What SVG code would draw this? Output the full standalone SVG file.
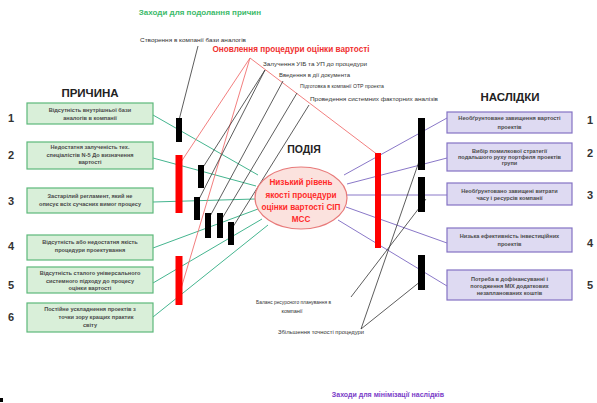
<svg xmlns="http://www.w3.org/2000/svg" width="597" height="403" viewBox="0 0 597 403">
<style>
text{font-family:"Liberation Sans",Arial,sans-serif}
.bx{fill:#d9efd9;stroke:#5cb87a;stroke-width:1.2}
.rb{fill:#dedaf2;stroke:#8472c4;stroke-width:1.2}
.bt{font-size:5.6px;font-weight:bold;fill:#4a4a4a;text-anchor:middle}
.num{font-size:11px;font-weight:bold;fill:#333;text-anchor:middle}
.hd{font-size:11.5px;font-weight:bold;fill:#222;text-anchor:middle}
.lab{font-size:5.5px;fill:#333}
.g{stroke:#45b58f;stroke-width:1;fill:none}
.p{stroke:#8a78c8;stroke-width:1;fill:none}
.r{stroke:#f07070;stroke-width:0.9;fill:none}
.k{stroke:#333;stroke-width:0.8;fill:none}
.kb{fill:#000}
.rd{fill:#f00}
</style>
<rect width="597" height="403" fill="#fff"/>

<text x="200" y="15" style="font-size:8px;font-weight:bold;fill:#3cba6a;text-anchor:middle">Заходи для подолання причин</text>
<text x="291" y="52" textLength="157" lengthAdjust="spacingAndGlyphs" style="font-size:8.6px;font-weight:bold;fill:#f03030;text-anchor:middle">Оновлення процедури оцінки вартості</text>
<text x="388" y="397" style="font-size:7px;font-weight:bold;fill:#7a3cc8;text-anchor:middle">Заходи для мінімізації наслідків</text>

<g id="labels">
<text class="lab" x="140" y="42" textLength="106" lengthAdjust="spacingAndGlyphs">Створення в компанії бази аналогів</text>
<text class="lab" x="263" y="66" textLength="104" lengthAdjust="spacingAndGlyphs">Залучення УІБ та УП до процедури</text>
<text class="lab" x="279" y="77" textLength="71" lengthAdjust="spacingAndGlyphs">Введення в дії документа</text>
<text class="lab" x="300" y="88" textLength="84" lengthAdjust="spacingAndGlyphs">Підготовка в компанії OTP проекта</text>
<text class="lab" x="310" y="101" textLength="128" lengthAdjust="spacingAndGlyphs">Проведення системних факторних аналізів</text>
<text class="lab" x="256" y="304" textLength="75" lengthAdjust="spacingAndGlyphs">Баланс ресурсного планування в</text>
<text class="lab" x="292" y="313" text-anchor="middle">компанії</text>
<text class="lab" x="278" y="334" textLength="86" lengthAdjust="spacingAndGlyphs">Збільшення точності процедури</text>
</g>

<g id="connectors">
<line class="g" x1="153" y1="115" x2="258" y2="175"/>
<line class="g" x1="153" y1="158" x2="256" y2="186"/>
<line class="g" x1="153" y1="202" x2="255" y2="199"/>
<line class="g" x1="153" y1="248" x2="258" y2="209"/>
<line class="g" x1="153" y1="283" x2="262" y2="219"/>
<line class="g" x1="153" y1="317" x2="268" y2="225"/>
<line class="p" x1="344" y1="175" x2="447" y2="118"/>
<line class="p" x1="347" y1="184" x2="447" y2="158"/>
<line class="p" x1="347" y1="195" x2="447" y2="195"/>
<line class="p" x1="346" y1="207" x2="447" y2="243"/>
<line class="p" x1="338" y1="220" x2="447" y2="286"/>
<line class="r" x1="250" y1="58" x2="179" y2="165"/>
<line class="r" x1="250" y1="58" x2="180" y2="292"/>
<line class="r" x1="250" y1="58" x2="378" y2="155"/>
<line class="k" x1="198" y1="46" x2="178" y2="124"/>
<line class="k" x1="265" y1="70" x2="200" y2="172"/>
<line class="k" x1="265" y1="70" x2="196" y2="205"/>
<line class="k" x1="283" y1="81" x2="208" y2="220"/>
<line class="k" x1="297" y1="93" x2="220" y2="222"/>
<line class="k" x1="309" y1="105" x2="231" y2="230"/>
<line class="k" x1="351" y1="297" x2="426" y2="199"/>
<line class="k" x1="361" y1="329" x2="423" y2="150"/>
<line class="k" x1="361" y1="329" x2="421" y2="281"/>
</g>

<g id="bars">
<rect class="kb" x="176" y="118" width="6" height="24"/>
<rect class="rd" x="175.5" y="155" width="7" height="58"/>
<rect class="kb" x="198" y="165" width="6" height="23"/>
<rect class="kb" x="194" y="197" width="6" height="23"/>
<rect class="kb" x="205" y="213" width="6" height="25"/>
<rect class="kb" x="217" y="213" width="6" height="25"/>
<rect class="kb" x="228" y="222" width="6" height="23"/>
<rect class="rd" x="175.5" y="256" width="7" height="49"/>
<rect class="rd" x="375" y="153" width="6" height="95"/>
<rect class="kb" x="418" y="118" width="7" height="52"/>
<rect class="kb" x="418" y="177" width="7" height="35"/>
<rect class="kb" x="418" y="255" width="7" height="35"/>
</g>

<g id="head-cause"><text class="hd" x="90" y="97">ПРИЧИНА</text></g>
<g id="head-effect"><text class="hd" x="510" y="101">НАСЛІДКИ</text></g>
<g id="head-event"><text x="304" y="153" style="font-size:10.5px;font-weight:bold;fill:#222;text-anchor:middle">ПОДІЯ</text></g>

<g id="cause1"><text class="num" x="11" y="122">1</text><rect class="bx" x="27" y="103" width="126" height="21"/>
<text class="bt" x="90" y="112">Відсутність внутрішньої бази</text><text class="bt" x="90" y="120">аналогів в компанії</text></g>
<g id="cause2"><text class="num" x="11" y="159">2</text><rect class="bx" x="27" y="142" width="126" height="27"/>
<text class="bt" x="90" y="149">Недостатня залученість тех.</text><text class="bt" x="90" y="156.5">спеціалістів N-5 До визначення</text><text class="bt" x="90" y="164">вартості</text></g>
<g id="cause3"><text class="num" x="11" y="205">3</text><rect class="bx" x="27" y="188" width="126" height="25"/>
<text class="bt" x="90" y="198">Застарілий регламент, який не</text><text class="bt" x="90" y="206">описує всіх сучасних вимог процесу</text></g>
<g id="cause4"><text class="num" x="11" y="250">4</text><rect class="bx" x="27" y="235" width="126" height="25"/>
<text class="bt" x="90" y="244">Відсутність або недостатня якість</text><text class="bt" x="90" y="252">процедури проектування</text></g>
<g id="cause5"><text class="num" x="11" y="289">5</text><rect class="bx" x="27" y="267" width="126" height="26"/>
<text class="bt" x="90" y="275">Відсутність сталого універсального</text><text class="bt" x="90" y="283">системного підходу до процесу</text><text class="bt" x="90" y="290">оцінки вартості</text></g>
<g id="cause6"><text class="num" x="11" y="321">6</text><rect class="bx" x="27" y="303" width="126" height="29"/>
<text class="bt" x="90" y="311">Постійне ускладнення проектів з</text><text class="bt" x="96" y="319">точки зору кращих практик</text><text class="bt" x="90" y="327">світу</text></g>

<g id="event"><ellipse cx="301" cy="198" rx="46" ry="31" fill="#fbe2de" stroke="#e87a7a" stroke-width="1.2"/>
<text x="301" y="185" style="font-size:8.2px;font-weight:bold;fill:#ff2a2a;text-anchor:middle">Низький рівень</text>
<text x="301" y="198" style="font-size:8.2px;font-weight:bold;fill:#ff2a2a;text-anchor:middle">якості процедури</text>
<text x="301" y="210" style="font-size:8.2px;font-weight:bold;fill:#ff2a2a;text-anchor:middle">оцінки вартості СІП</text>
<text x="301" y="222" style="font-size:8.2px;font-weight:bold;fill:#ff2a2a;text-anchor:middle">МСС</text></g>

<g id="effect1"><rect class="rb" x="447" y="112" width="125" height="21"/>
<text class="bt" x="509.5" y="120">Необґрунтоване завищення вартості</text><text class="bt" x="509.5" y="129">проектів</text><text class="num" x="590" y="124">1</text></g>
<g id="effect2"><rect class="rb" x="447" y="143" width="125" height="28"/>
<text class="bt" x="509.5" y="152.5">Вибір помилкової стратегії</text><text class="bt" x="509.5" y="158.5">подальшого руху портфеля проектів</text><text class="bt" x="509.5" y="164.5">групи</text><text class="num" x="590" y="157">2</text></g>
<g id="effect3"><rect class="rb" x="447" y="183" width="125" height="22"/>
<text class="bt" x="509.5" y="192.5">Необґрунтовано завищені витрати</text><text class="bt" x="509.5" y="200">часу і ресурсів компанії</text><text class="num" x="590" y="199">3</text></g>
<g id="effect4"><rect class="rb" x="447" y="228" width="125" height="24"/>
<text class="bt" x="509.5" y="238">Низька ефективність інвестиційних</text><text class="bt" x="509.5" y="246">проектів</text><text class="num" x="590" y="247">4</text></g>
<g id="effect5"><rect class="rb" x="447" y="270" width="125" height="30"/>
<text class="bt" x="509.5" y="281">Потреба в дофінансуванні і</text><text class="bt" x="509.5" y="288">погодження МІХ додаткових</text><text class="bt" x="509.5" y="295">незапланованих коштів</text><text class="num" x="590" y="289">5</text></g>

<rect x="0" y="398" width="3" height="4" fill="#000"/>
</svg>
